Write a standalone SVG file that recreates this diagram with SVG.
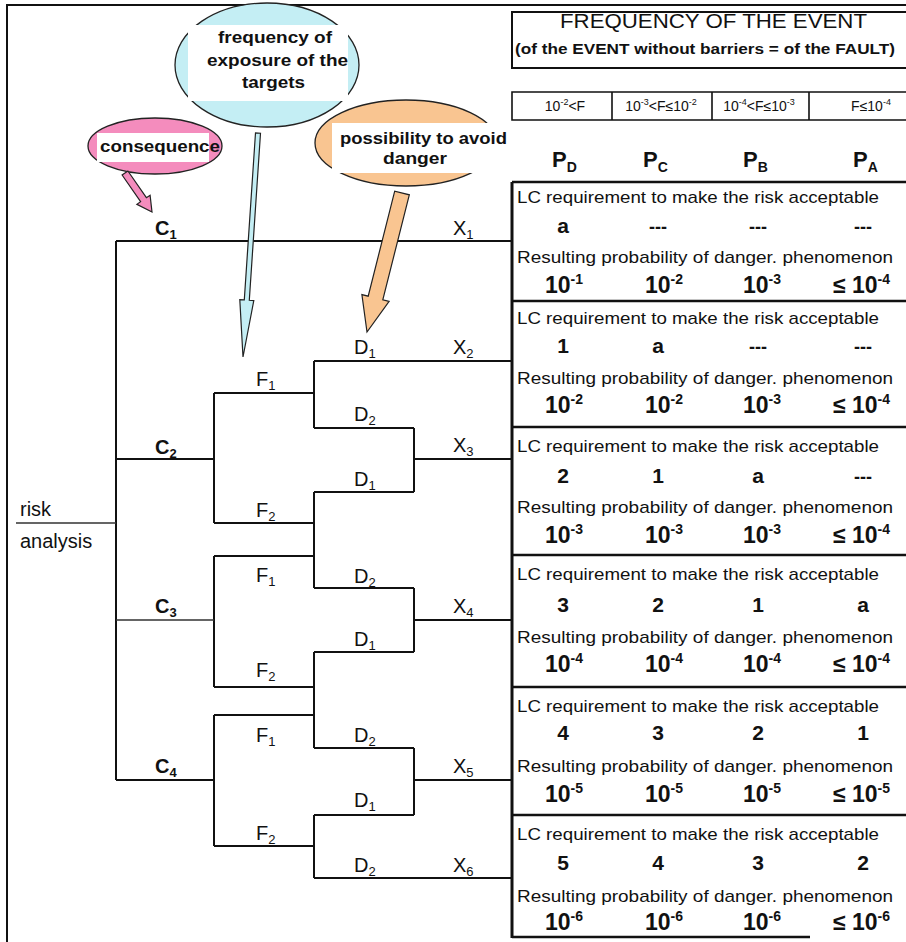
<svg xmlns="http://www.w3.org/2000/svg" width="906" height="942" viewBox="0 0 906 942">
<defs>
<style>
text{font-family:"Liberation Sans",Arial,sans-serif;fill:#111}
.lbl{font-size:20px}
.cl{font-size:20px;font-weight:bold}
.sub{font-size:13px}
.blk{font-size:17px}
.val{font-size:21px;font-weight:bold;text-anchor:middle}
.dash{font-size:18px;font-weight:bold;text-anchor:middle}
.pw{font-size:23px;font-weight:bold}
.sup{font-size:14px}
.fr{font-size:14px;text-anchor:middle}
.fs{font-size:9px}
.bub{font-size:17px;font-weight:bold}
.ln{stroke:#111;stroke-width:2;fill:none}
.thin{stroke:#333;stroke-width:1.3;fill:none}
.sep{stroke:#111;stroke-width:2.5;fill:none}
.arr{stroke:#222;stroke-width:1.2}
</style>
</defs>
<rect width="906" height="942" fill="#fff"/>
<!-- outer frame -->
<path d="M7 942V5H906" class="ln"/>

<!-- header -->
<g id="header">
<path d="M906 12H512V68H906" stroke="#111" stroke-width="2" fill="none"/>
<text x="560" y="28" font-size="20" textLength="307" lengthAdjust="spacingAndGlyphs">FREQUENCY OF THE EVENT</text>
<text x="515" y="54" font-size="14" font-weight="bold" textLength="380" lengthAdjust="spacingAndGlyphs">(of the EVENT without barriers = of the FAULT)</text>
</g>
<g id="freq-row">
<path d="M906 92H512V120H906M612 92V120M712 92V120M809 92V120" stroke="#111" stroke-width="1.6" fill="none"/>
<text class="fr" x="565" y="111">10<tspan class="fs" dy="-6">-2</tspan><tspan dy="6">&lt;F</tspan></text>
<text class="fr" x="661" y="111">10<tspan class="fs" dy="-6">-3</tspan><tspan dy="6">&lt;F≤10</tspan><tspan class="fs" dy="-6">-2</tspan></text>
<text class="fr" x="759" y="111">10<tspan class="fs" dy="-6">-4</tspan><tspan dy="6">&lt;F≤10</tspan><tspan class="fs" dy="-6">-3</tspan></text>
<text class="fr" x="871" y="111">F≤10<tspan class="fs" dy="-6">-4</tspan></text>
</g>
<g id="p-headers">
<text x="552" y="167" font-size="22" font-weight="bold">P<tspan font-size="14" dy="5">D</tspan></text>
<text x="643" y="167" font-size="22" font-weight="bold">P<tspan font-size="14" dy="5">C</tspan></text>
<text x="743" y="167" font-size="22" font-weight="bold">P<tspan font-size="14" dy="5">B</tspan></text>
<text x="853" y="167" font-size="22" font-weight="bold">P<tspan font-size="14" dy="5">A</tspan></text>
</g>

<!-- blocks -->
<g id="blocks-frame">
<path d="M512 182V938" stroke="#111" stroke-width="3"/>
<path d="M512 182H906M512 301H906M512 427H906M512 555H906M512 687H906M512 815H906M512 937H810" class="sep"/>
</g>
<g id="block-x1">
<text class="blk" x="517" y="203" textLength="362" lengthAdjust="spacingAndGlyphs">LC requirement to make the risk acceptable</text>
<text class="val" x="563" y="233">a</text><text class="dash" x="658" y="233">---</text><text class="dash" x="758" y="233">---</text><text class="dash" x="863" y="233">---</text>
<text class="blk" x="517" y="263" textLength="376" lengthAdjust="spacingAndGlyphs">Resulting probability of danger. phenomenon</text>
<text class="pw" y="293"><tspan x="545">10</tspan><tspan class="sup" dy="-9">-1</tspan></text>
<text class="pw" y="293"><tspan x="645">10</tspan><tspan class="sup" dy="-9">-2</tspan></text>
<text class="pw" y="293"><tspan x="743">10</tspan><tspan class="sup" dy="-9">-3</tspan></text>
<text class="pw" y="293"><tspan x="833">≤ 10</tspan><tspan class="sup" dy="-9">-4</tspan></text>
</g>
<g id="block-x2">
<text class="blk" x="517" y="324" textLength="362" lengthAdjust="spacingAndGlyphs">LC requirement to make the risk acceptable</text>
<text class="val" x="563" y="353">1</text><text class="val" x="658" y="353">a</text><text class="dash" x="758" y="353">---</text><text class="dash" x="863" y="353">---</text>
<text class="blk" x="517" y="384" textLength="376" lengthAdjust="spacingAndGlyphs">Resulting probability of danger. phenomenon</text>
<text class="pw" y="413"><tspan x="545">10</tspan><tspan class="sup" dy="-9">-2</tspan></text>
<text class="pw" y="413"><tspan x="645">10</tspan><tspan class="sup" dy="-9">-2</tspan></text>
<text class="pw" y="413"><tspan x="743">10</tspan><tspan class="sup" dy="-9">-3</tspan></text>
<text class="pw" y="413"><tspan x="833">≤ 10</tspan><tspan class="sup" dy="-9">-4</tspan></text>
</g>
<g id="block-x3">
<text class="blk" x="517" y="452" textLength="362" lengthAdjust="spacingAndGlyphs">LC requirement to make the risk acceptable</text>
<text class="val" x="563" y="483">2</text><text class="val" x="658" y="483">1</text><text class="val" x="758" y="483">a</text><text class="dash" x="863" y="483">---</text>
<text class="blk" x="517" y="513" textLength="376" lengthAdjust="spacingAndGlyphs">Resulting probability of danger. phenomenon</text>
<text class="pw" y="543"><tspan x="545">10</tspan><tspan class="sup" dy="-9">-3</tspan></text>
<text class="pw" y="543"><tspan x="645">10</tspan><tspan class="sup" dy="-9">-3</tspan></text>
<text class="pw" y="543"><tspan x="743">10</tspan><tspan class="sup" dy="-9">-3</tspan></text>
<text class="pw" y="543"><tspan x="833">≤ 10</tspan><tspan class="sup" dy="-9">-4</tspan></text>
</g>
<g id="block-x4">
<text class="blk" x="517" y="580" textLength="362" lengthAdjust="spacingAndGlyphs">LC requirement to make the risk acceptable</text>
<text class="val" x="563" y="612">3</text><text class="val" x="658" y="612">2</text><text class="val" x="758" y="612">1</text><text class="val" x="863" y="612">a</text>
<text class="blk" x="517" y="643" textLength="376" lengthAdjust="spacingAndGlyphs">Resulting probability of danger. phenomenon</text>
<text class="pw" y="672"><tspan x="545">10</tspan><tspan class="sup" dy="-9">-4</tspan></text>
<text class="pw" y="672"><tspan x="645">10</tspan><tspan class="sup" dy="-9">-4</tspan></text>
<text class="pw" y="672"><tspan x="743">10</tspan><tspan class="sup" dy="-9">-4</tspan></text>
<text class="pw" y="672"><tspan x="833">≤ 10</tspan><tspan class="sup" dy="-9">-4</tspan></text>
</g>
<g id="block-x5">
<text class="blk" x="517" y="712" textLength="362" lengthAdjust="spacingAndGlyphs">LC requirement to make the risk acceptable</text>
<text class="val" x="563" y="740">4</text><text class="val" x="658" y="740">3</text><text class="val" x="758" y="740">2</text><text class="val" x="863" y="740">1</text>
<text class="blk" x="517" y="772" textLength="376" lengthAdjust="spacingAndGlyphs">Resulting probability of danger. phenomenon</text>
<text class="pw" y="802"><tspan x="545">10</tspan><tspan class="sup" dy="-9">-5</tspan></text>
<text class="pw" y="802"><tspan x="645">10</tspan><tspan class="sup" dy="-9">-5</tspan></text>
<text class="pw" y="802"><tspan x="743">10</tspan><tspan class="sup" dy="-9">-5</tspan></text>
<text class="pw" y="802"><tspan x="833">≤ 10</tspan><tspan class="sup" dy="-9">-5</tspan></text>
</g>
<g id="block-x6">
<text class="blk" x="517" y="840" textLength="362" lengthAdjust="spacingAndGlyphs">LC requirement to make the risk acceptable</text>
<text class="val" x="563" y="870">5</text><text class="val" x="658" y="870">4</text><text class="val" x="758" y="870">3</text><text class="val" x="863" y="870">2</text>
<text class="blk" x="517" y="902" textLength="376" lengthAdjust="spacingAndGlyphs">Resulting probability of danger. phenomenon</text>
<text class="pw" y="930"><tspan x="545">10</tspan><tspan class="sup" dy="-9">-6</tspan></text>
<text class="pw" y="930"><tspan x="645">10</tspan><tspan class="sup" dy="-9">-6</tspan></text>
<text class="pw" y="930"><tspan x="743">10</tspan><tspan class="sup" dy="-9">-6</tspan></text>
<text class="pw" y="930"><tspan x="833">≤ 10</tspan><tspan class="sup" dy="-9">-6</tspan></text>
</g>

<!-- connectors (risk graph) -->
<g id="connectors">
<path class="ln" d="M116 241H512M116 241V780M116 459H214M214 393V523M214 393H314M314 361V428M314 361H512M314 428H414M414 428V492M414 459H512M314 492H414M314 492V588M214 523H314M214 556H314M214 556V687M314 588H414M414 588V652M414 620H512M314 652H414M314 652V748M214 687H314M214 715H314M314 748H414M414 748V815M414 780H512M116 780H214M214 715V846M314 815H414M314 815V878M214 846H314M314 878H512"/>
<path class="thin" d="M16 523H116M116 620H214"/>
</g>

<!-- tree labels -->
<g id="risk-analysis"><text class="lbl" x="20" y="516" font-size="21">risk</text><text class="lbl" x="20" y="548" font-size="21">analysis</text></g>
<g id="c1"><text class="cl" x="155" y="235">C<tspan class="sub" dy="4">1</tspan></text></g>
<g id="c2"><text class="cl" x="155" y="454">C<tspan class="sub" dy="4">2</tspan></text></g>
<g id="c3"><text class="cl" x="155" y="613">C<tspan class="sub" dy="4">3</tspan></text></g>
<g id="c4"><text class="cl" x="155" y="773">C<tspan class="sub" dy="4">4</tspan></text></g>
<g id="f-labels">
<text class="lbl" x="256" y="386">F<tspan class="sub" dy="4">1</tspan></text>
<text class="lbl" x="256" y="517">F<tspan class="sub" dy="4">2</tspan></text>
<text class="lbl" x="256" y="582">F<tspan class="sub" dy="4">1</tspan></text>
<text class="lbl" x="256" y="677">F<tspan class="sub" dy="4">2</tspan></text>
<text class="lbl" x="256" y="742">F<tspan class="sub" dy="4">1</tspan></text>
<text class="lbl" x="256" y="840">F<tspan class="sub" dy="4">2</tspan></text>
</g>
<g id="d-labels">
<text class="lbl" x="354" y="354">D<tspan class="sub" dy="4">1</tspan></text>
<text class="lbl" x="354" y="421">D<tspan class="sub" dy="4">2</tspan></text>
<text class="lbl" x="354" y="486">D<tspan class="sub" dy="4">1</tspan></text>
<text class="lbl" x="354" y="583">D<tspan class="sub" dy="4">2</tspan></text>
<text class="lbl" x="354" y="646">D<tspan class="sub" dy="4">1</tspan></text>
<text class="lbl" x="354" y="742">D<tspan class="sub" dy="4">2</tspan></text>
<text class="lbl" x="354" y="807">D<tspan class="sub" dy="4">1</tspan></text>
<text class="lbl" x="354" y="872">D<tspan class="sub" dy="4">2</tspan></text>
</g>
<g id="x-labels">
<text class="lbl" x="453" y="235">X<tspan class="sub" dy="4">1</tspan></text>
<text class="lbl" x="453" y="354">X<tspan class="sub" dy="4">2</tspan></text>
<text class="lbl" x="453" y="452">X<tspan class="sub" dy="4">3</tspan></text>
<text class="lbl" x="453" y="613">X<tspan class="sub" dy="4">4</tspan></text>
<text class="lbl" x="453" y="773">X<tspan class="sub" dy="4">5</tspan></text>
<text class="lbl" x="453" y="872">X<tspan class="sub" dy="4">6</tspan></text>
</g>

<!-- bubbles -->
<g id="bubble-consequence">
<ellipse cx="155" cy="146" rx="67" ry="28" fill="#f48cbd" stroke="#222" stroke-width="1.3"/>
<rect x="97" y="133" width="112" height="29" fill="#fff"/>
<text class="bub" x="100" y="152" textLength="120" lengthAdjust="spacingAndGlyphs">consequence</text>
<polygon class="arr" fill="#f48cbd" points="127.9,171 146.4,197.7 150.1,195.2 152,212 136.9,204.3 140.6,201.7 122.1,175"/>
</g>
<g id="bubble-frequency">
<ellipse cx="267" cy="65" rx="92" ry="62" fill="#c4eef4" stroke="#222" stroke-width="1.3"/>
<rect x="188" y="25" width="160" height="76" fill="#fff"/>
<text class="bub" x="218" y="43" textLength="114" lengthAdjust="spacingAndGlyphs">frequency of</text>
<text class="bub" x="207" y="66" textLength="141" lengthAdjust="spacingAndGlyphs">exposure of the</text>
<text class="bub" x="242" y="88" textLength="63" lengthAdjust="spacingAndGlyphs">targets</text>
<polygon class="arr" fill="#c4eef4" points="260.5,133.2 249.3,300.3 253.8,300.6 243,357 239.8,299.6 244.3,299.9 255.5,132.8"/>
</g>
<g id="bubble-avoid">
<ellipse cx="406" cy="143" rx="91" ry="43" fill="#f9c591" stroke="#222" stroke-width="1.3"/>
<rect x="332" y="123" width="176" height="50" fill="#fff"/>
<text class="bub" x="340" y="144" textLength="167" lengthAdjust="spacingAndGlyphs">possibility to avoid</text>
<text class="bub" x="383" y="164" textLength="64" lengthAdjust="spacingAndGlyphs">danger</text>
<polygon class="arr" fill="#f9c591" points="409.3,194.8 382.8,299.8 389.1,301.4 367,332 361.9,294.6 368.2,296.2 394.7,191.2"/>
</g>
</svg>
